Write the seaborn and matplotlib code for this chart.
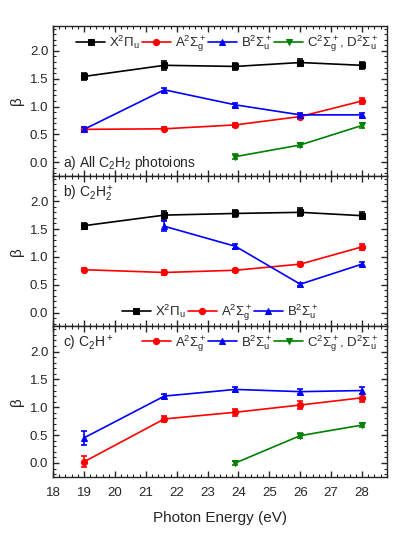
import numpy as np
import pandas as pd
import matplotlib
matplotlib.use("Agg")
import matplotlib.pyplot as plt
import seaborn as sns
from matplotlib.ticker import MultipleLocator

energy = [19, 21.6, 23.9, 26, 28]

# panel a: all C2H2 photoions
a_X = [1.54, 1.74, 1.72, 1.79, 1.74]
a_X_err = [0.06, 0.08, 0.06, 0.07, 0.06]
a_A = [0.59, 0.60, 0.67, 0.82, 1.10]
a_A_err = [0.03, 0.03, 0.03, 0.04, 0.05]
a_B = [0.59, 1.30, 1.03, 0.85, 0.85]
a_B_err = [0.04, 0.04, 0.04, 0.04, 0.03]
a_CD = [np.nan, np.nan, 0.10, 0.31, 0.66]
a_CD_err = [np.nan, np.nan, 0.04, 0.04, 0.04]

# panel b: C2H2+
b_X = [1.56, 1.75, 1.78, 1.80, 1.74]
b_X_err = [0.05, 0.08, 0.06, 0.07, 0.06]
b_A = [0.77, 0.72, 0.76, 0.87, 1.18]
b_A_err = [0.03, 0.04, 0.03, 0.04, 0.05]
b_B = [np.nan, 1.55, 1.19, 0.51, 0.87]
b_B_err = [np.nan, 0.09, 0.04, 0.03, 0.03]

# panel c: C2H+
c_A = [0.02, 0.79, 0.91, 1.04, 1.17]
c_A_err = [0.10, 0.05, 0.06, 0.07, 0.07]
c_B = [0.45, 1.20, 1.32, 1.28, 1.30]
c_B_err = [0.12, 0.04, 0.05, 0.05, 0.06]
c_CD = [np.nan, np.nan, 0.00, 0.49, 0.68]
c_CD_err = [np.nan, np.nan, 0.03, 0.04, 0.04]

lab_X = r"X$^2\Pi_u$"
lab_A = r"A$^2\Sigma_g^+$"
lab_B = r"B$^2\Sigma_u^+$"
lab_CD = r"C$^2\Sigma_g^+$, D$^2\Sigma_u^+$"

styles = {
    "X": ("black", "s", lab_X),
    "A": ("red", "o", lab_A),
    "B": ("blue", "^", lab_B),
    "CD": ("green", "v", lab_CD),
}

sns.set_style("ticks")
plt.rcParams["font.family"] = ["Liberation Sans", "DejaVu Sans"]
plt.rcParams["mathtext.fontset"] = "custom"
plt.rcParams["mathtext.rm"] = "Liberation Sans"
plt.rcParams["mathtext.it"] = "Liberation Sans"
plt.rcParams["mathtext.bf"] = "Liberation Sans:bold"

fig, axes = plt.subplots(3, 1, figsize=(4.15, 5.37), dpi=100, sharex=True)
fig.subplots_adjust(left=0.128, right=0.932, top=0.952, bottom=0.112, hspace=0)


def draw(ax, key, y, err):
    color, marker, label = styles[key]
    df = pd.DataFrame({"E": energy, "beta": y}).dropna()
    sns.lineplot(data=df, x="E", y="beta", ax=ax, color=color, marker=marker,
                 markersize=4.5, markeredgecolor=color, linewidth=1.2, label=label)
    ax.errorbar(energy, y, yerr=err, fmt="none", ecolor=color, elinewidth=1.2,
                capsize=2.5, capthick=1.2)


panels = [
    (axes[0], [("X", a_X, a_X_err), ("A", a_A, a_A_err), ("B", a_B, a_B_err), ("CD", a_CD, a_CD_err)]),
    (axes[1], [("X", b_X, b_X_err), ("A", b_A, b_A_err), ("B", b_B, b_B_err)]),
    (axes[2], [("A", c_A, c_A_err), ("B", c_B, c_B_err), ("CD", c_CD, c_CD_err)]),
]

for ax, series in panels:
    for key, y, err in series:
        draw(ax, key, y, err)
    ax.set_xlim(18, 28.8)
    ax.set_ylim(-0.25, 2.45)
    ax.yaxis.set_major_locator(MultipleLocator(0.5))
    ax.yaxis.set_minor_locator(MultipleLocator(0.1))
    ax.xaxis.set_major_locator(MultipleLocator(1))
    ax.xaxis.set_minor_locator(MultipleLocator(0.2))
    ax.tick_params(which="both", direction="in", top=True, right=True, labelsize=9.5)
    ax.tick_params(which="major", length=4, width=1)
    ax.tick_params(which="minor", length=2, width=0.8)
    ax.tick_params(axis="x", pad=7)
    ax.yaxis.set_major_formatter(matplotlib.ticker.FormatStrFormatter("%.1f"))
    ax.set_ylabel("β", fontsize=11)
    ax.set_xlabel("")
    for sp in ax.spines.values():
        sp.set_linewidth(1.0)

leg_kw = dict(frameon=False, fontsize=9.5, handlelength=2.2, handletextpad=0.3,
              columnspacing=0.15, borderaxespad=0.2)
axes[0].legend(loc="upper right", ncol=4, **leg_kw)
axes[1].legend(loc="lower center", ncol=3, bbox_to_anchor=(0.5, -0.03), **leg_kw)
axes[2].legend(loc="upper right", ncol=3, bbox_to_anchor=(1.0, 1.01), **leg_kw)

axes[0].text(0.03, 0.06, r"a) All C$_2$H$_2$ photoions", transform=axes[0].transAxes, fontsize=10)
axes[1].text(0.03, 0.86, r"b) C$_2$H$_2^+$", transform=axes[1].transAxes, fontsize=10)
axes[2].text(0.03, 0.86, r"c) C$_2$H$^+$", transform=axes[2].transAxes, fontsize=10)

axes[2].set_xlabel("Photon Energy (eV)", fontsize=11, labelpad=9)
fig.align_ylabels(axes)

fig.savefig("out.png", dpi=100)
